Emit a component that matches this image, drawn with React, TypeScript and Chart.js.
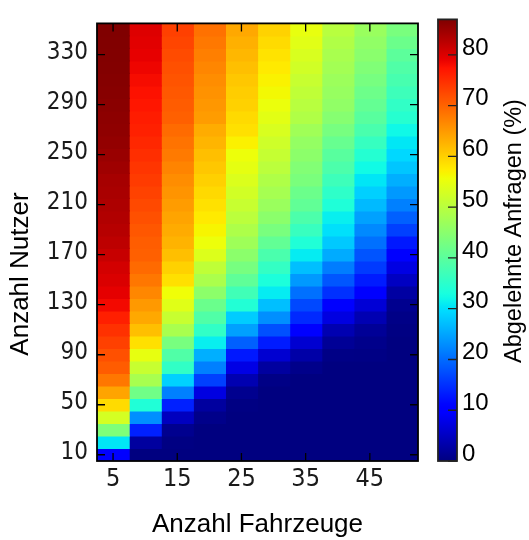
import React, { useEffect, useRef } from 'react';
import { Chart, registerables } from 'chart.js';

Chart.register(...registerables);

// ---- data -------------------------------------------------------------
const fahrzeuge = [5, 10, 15, 20, 25, 30, 35, 40, 45, 50];
const nutzer = [10, 20, 30, 40, 50, 60, 70, 80, 90, 100, 110, 120, 130, 140, 150, 160, 170, 180, 190, 200,
  210, 220, 230, 240, 250, 260, 270, 280, 290, 300, 310, 320, 330, 340, 350];
const fahrzeugTicks = [5, 15, 25, 35, 45];
const nutzerTicks = [10, 50, 90, 130, 170, 210, 250, 290, 330];
const farbTicks = [0, 10, 20, 30, 40, 50, 60, 70, 80];
const wertMin = 0;
const wertMax = 87;

// rejected requests (%) per vehicle count, users 10 .. 350
const abgelehnt5 = [10.2, 30.5, 43.8, 52.9, 59.0, 64.1, 68.2, 70.7, 71.8, 73.3, 74.7, 76.3, 78.3, 79.4, 80.2, 80.7, 81.6, 82.4,
  82.9, 83.3, 83.6, 83.9, 84.1, 84.6, 85.1, 85.5, 85.8, 86.0, 86.2, 86.4, 86.6, 86.7, 86.8, 86.9, 87.0];
const abgelehnt10 = [0, 2.4, 13.6, 23.1, 33.8, 42.3, 48.2, 51.5, 54.9, 58.5, 61.6, 63.7, 65.1, 66.7, 68.2, 69.4, 70.3, 70.6,
  71.2, 71.8, 72.4, 73.1, 73.7, 74.3, 74.9, 75.6, 76.2, 76.6, 77.1, 77.6, 78.1, 78.7, 79.2, 79.6, 79.9];
const abgelehnt15 = [0, 0.3, 1.2, 4.8, 13.6, 21.8, 28.7, 35.6, 38.9, 43.1, 48.3, 51.5, 54.1, 55.8, 58.5, 59.9, 61.6, 62.7,
  63.4, 64.1, 64.8, 65.5, 66.2, 67.0, 67.9, 68.6, 69.3, 70.3, 70.7, 71.1, 71.4, 71.8, 72.3, 72.8, 73.3];
const abgelehnt20 = [0, 0, 0, 0.8, 2.4, 7.3, 16.3, 21.8, 25.8, 31.3, 35.6, 38.9, 41.7, 45.3, 48.5, 50.7, 53.7, 55.5,
  56.6, 57.6, 58.4, 59.2, 60.0, 60.8, 61.6, 62.5, 63.3, 64.8, 65.3, 65.7, 66.2, 66.8, 67.5, 68.1, 68.8];
const abgelehnt25 = [0, 0, 0, 0, 0.3, 1.2, 3.7, 7.6, 12.9, 19.1, 24.5, 28.3, 34.0, 37.2, 40.5, 43.0, 45.2, 47.2,
  48.8, 50.2, 51.5, 52.6, 53.6, 54.7, 55.5, 57.0, 58.5, 59.1, 59.9, 60.3, 60.8, 61.6, 62.3, 63.0, 63.7];
const abgelehnt30 = [0, 0, 0, 0, 0, 0, 0.5, 2.4, 6.1, 13.2, 17.7, 23.1, 27.2, 31.0, 33.4, 35.8, 38.3, 40.8,
  43.2, 45.2, 46.7, 48.0, 49.0, 50.2, 51.3, 52.2, 53.3, 54.4, 55.3, 56.2, 56.9, 57.6, 58.3, 59.0, 59.8];
const abgelehnt35 = [0, 0, 0, 0, 0, 0, 0, 0.8, 3.0, 6.1, 9.6, 14.4, 17.0, 20.4, 23.9, 27.2, 31.0, 33.8,
  36.4, 38.5, 40.7, 41.8, 43.4, 44.2, 45.3, 46.1, 47.4, 49.1, 49.9, 50.7, 51.5, 52.5, 53.3, 54.2, 55.0];
const abgelehnt40 = [0, 0, 0, 0, 0, 0, 0, 0, 0.5, 1.7, 3.7, 7.3, 10.5, 15.0, 18.2, 21.5, 25.5, 28.0,
  30.0, 31.3, 33.7, 35.3, 36.9, 38.5, 39.8, 41.3, 43.0, 44.6, 45.8, 46.4, 46.9, 47.7, 48.3, 49.1, 49.9];
const abgelehnt45 = [0, 0, 0, 0, 0, 0, 0, 0, 0.4, 0.9, 1.8, 3.8, 6.5, 9.8, 13.2, 15.8, 18.0, 20.4,
  22.6, 24.6, 26.7, 28.6, 30.5, 32.3, 34.3, 36.2, 38.2, 39.8, 41.0, 42.0, 43.0, 44.0, 45.0, 45.8, 46.6];
const abgelehnt50 = [0, 0, 0, 0, 0, 0, 0, 0, 0, 0, 0.3, 0.6, 1.2, 2.6, 5.0, 7.5, 10.0, 12.9,
  16.3, 19.1, 21.8, 23.9, 25.8, 27.8, 29.3, 30.6, 32.1, 34.5, 35.6, 36.9, 38.0, 38.9, 40.2, 41.8, 43.2];

const spalten = [abgelehnt5, abgelehnt10, abgelehnt15, abgelehnt20, abgelehnt25,
  abgelehnt30, abgelehnt35, abgelehnt40, abgelehnt45, abgelehnt50];

// ---- colormap (jet) ---------------------------------------------------
const JET_R: [number, number][] = [[0, 0], [0.35, 0], [0.66, 1], [0.89, 1], [1, 0.5]];
const JET_G: [number, number][] = [[0, 0], [0.125, 0], [0.375, 1], [0.64, 1], [0.91, 0], [1, 0]];
const JET_B: [number, number][] = [[0, 0.5], [0.11, 1], [0.34, 1], [0.65, 0], [1, 0]];

function kanal(t: number, pts: [number, number][]) {
  for (let i = 1; i < pts.length; i++) {
    if (t <= pts[i][0]) {
      const [x0, y0] = pts[i - 1];
      const [x1, y1] = pts[i];
      return y0 + ((t - x0) / (x1 - x0)) * (y1 - y0);
    }
  }
  return pts[pts.length - 1][1];
}
function jet(t: number) {
  const c = Math.max(0, Math.min(1, t));
  const r = Math.round(kanal(c, JET_R) * 255);
  const g = Math.round(kanal(c, JET_G) * 255);
  const b = Math.round(kanal(c, JET_B) * 255);
  return `rgb(${r},${g},${b})`;
}
const norm = (v: number) => (v - wertMin) / (wertMax - wertMin);

// ---- fonts -------------------------------------------------------------
const tickFamily = "'DejaVu Sans Condensed', 'DejaVu Sans', sans-serif";
const titleFamily = "'Liberation Sans', Arial, sans-serif";
const textColor = '#1a1a1a';

const xStep = fahrzeuge[1] - fahrzeuge[0];
const yStep = nutzer[1] - nutzer[0];

const rahmenPlugin = {
  id: 'rahmen',
  afterDatasetsDraw(chart: any) {
    const { ctx, chartArea: a, scales } = chart;
    ctx.save();
    ctx.strokeStyle = '#000';
    ctx.lineWidth = 1.3;
    const len = 8;
    ctx.beginPath();
    for (const v of fahrzeugTicks) {
      const px = scales.x.getPixelForValue(v);
      ctx.moveTo(px, a.bottom); ctx.lineTo(px, a.bottom - len);
      ctx.moveTo(px, a.top); ctx.lineTo(px, a.top + len);
    }
    for (const v of nutzerTicks) {
      const py = scales.y.getPixelForValue(v);
      ctx.moveTo(a.left, py); ctx.lineTo(a.left + len, py);
      ctx.moveTo(a.right, py); ctx.lineTo(a.right - len, py);
    }
    ctx.stroke();
    ctx.lineWidth = 1.8;
    ctx.strokeRect(a.left, a.top, a.right - a.left, a.bottom - a.top);
    // y axis title
    ctx.translate(21, 274);
    ctx.rotate(-Math.PI / 2);
    ctx.font = `26px ${titleFamily}`;
    ctx.fillStyle = '#000';
    ctx.textAlign = 'center';
    ctx.textBaseline = 'middle';
    ctx.fillText('Anzahl Nutzer', 0, 0);
    ctx.restore();
  },
};

const farbPlugin = {
  id: 'farbRahmen',
  afterDatasetsDraw(chart: any) {
    const { ctx, chartArea: a, scales } = chart;
    ctx.save();
    ctx.strokeStyle = '#222';
    ctx.lineWidth = 1.3;
    ctx.beginPath();
    for (const v of farbTicks) {
      const py = scales.y.getPixelForValue(v);
      ctx.moveTo(a.right, py); ctx.lineTo(a.right - 9, py);
    }
    ctx.stroke();
    ctx.lineWidth = 1.8;
    ctx.strokeRect(a.left, a.top, a.right - a.left, a.bottom - a.top);
    ctx.translate(85, 231);
    ctx.rotate(-Math.PI / 2);
    ctx.font = `23.5px ${titleFamily}`;
    ctx.fillStyle = '#000';
    ctx.textAlign = 'center';
    ctx.textBaseline = 'middle';
    ctx.fillText('Abgelehnte Anfragen (%)', 0, 0);
    ctx.restore();
  },
};

export default function App() {
  const mainRef = useRef<HTMLCanvasElement>(null);
  const barRef = useRef<HTMLCanvasElement>(null);

  useEffect(() => {
    const datasets = fahrzeuge.map((f, i) => ({
      label: `${f} Fahrzeuge`,
      data: nutzer.map((u, j) => ({ x: f, y: [u - yStep / 2, u + yStep / 2], v: spalten[i][j] })),
      backgroundColor: (ctx: any) => jet(norm(ctx.raw ? ctx.raw.v : 0)),
      borderWidth: 0,
      barPercentage: 1,
      categoryPercentage: 1,
      grouped: false,
      inflateAmount: 0.6,
    }));

    const main = new Chart(mainRef.current!, {
      type: 'bar',
      data: { datasets } as any,
      options: {
        responsive: false,
        animation: false,
        devicePixelRatio: 1,
        events: [],
        layout: { padding: { left: 0, right: 12, top: 16, bottom: 0 } },
        plugins: { legend: { display: false }, tooltip: { enabled: false } },
        scales: {
          x: {
            type: 'linear',
            min: fahrzeuge[0] - xStep / 2,
            max: fahrzeuge[fahrzeuge.length - 1] + xStep / 2,
            offset: false,
            afterBuildTicks: (s: any) => { s.ticks = fahrzeugTicks.map((value) => ({ value })); },
            afterFit: (s: any) => { s.height = 79; },
            grid: { display: false, drawTicks: false },
            border: { display: false },
            ticks: { padding: 3, font: { family: tickFamily, size: 25 }, color: textColor, maxRotation: 0, autoSkip: false },
            title: { display: true, text: 'Anzahl Fahrzeuge', font: { family: titleFamily, size: 26 }, color: '#000', padding: { top: 0, bottom: 0 } },
          },
          y: {
            type: 'linear',
            min: nutzer[0] - yStep / 2,
            max: nutzer[nutzer.length - 1] + yStep / 2,
            afterBuildTicks: (s: any) => { s.ticks = nutzerTicks.map((value) => ({ value })); },
            afterFit: (s: any) => { s.width = 97; },
            grid: { display: false, drawTicks: false },
            border: { display: false },
            ticks: { padding: 9, labelOffset: -2, font: { family: tickFamily, size: 24 }, color: textColor, autoSkip: false },
          },
        },
      } as any,
      plugins: [rahmenPlugin],
    });

    const bar = new Chart(barRef.current!, {
      type: 'bar',
      data: {
        labels: [''],
        datasets: [{
          label: 'Abgelehnte Anfragen (%)',
          data: [[wertMin, wertMax]],
          borderWidth: 0,
          barPercentage: 1,
          categoryPercentage: 1,
          backgroundColor: (ctx: any) => {
            const ch = ctx.chart;
            const ys = ch.scales.y;
            if (!ch.chartArea || !ys) return jet(0.5);
            const g = ch.ctx.createLinearGradient(0, ys.getPixelForValue(wertMin), 0, ys.getPixelForValue(wertMax));
            for (let i = 0; i <= 100; i++) g.addColorStop(i / 100, jet(i / 100));
            return g;
          },
        }],
      } as any,
      options: {
        responsive: false,
        animation: false,
        devicePixelRatio: 1,
        events: [],
        layout: { padding: { left: 8, right: 0, top: 16, bottom: 79 } },
        plugins: { legend: { display: false }, tooltip: { enabled: false } },
        scales: {
          x: { display: false },
          y: {
            position: 'right',
            min: wertMin,
            max: wertMax,
            afterBuildTicks: (s: any) => { s.ticks = farbTicks.map((value) => ({ value })); },
            afterFit: (s: any) => { s.width = 72; },
            grid: { display: false, drawTicks: false },
            border: { display: false },
            ticks: { padding: 5, labelOffset: -7, font: { family: titleFamily, size: 24 }, color: '#000', autoSkip: false },
          },
        },
      } as any,
      plugins: [farbPlugin],
    });

    return () => { main.destroy(); bar.destroy(); };
  }, []);

  return (
    <div style={{ position: 'absolute', left: 0, top: 0, width: 529, height: 540, background: '#fff' }}>
      <canvas ref={mainRef} width={430} height={540} style={{ position: 'absolute', left: 0, top: 0 }} />
      <canvas ref={barRef} width={99} height={540} style={{ position: 'absolute', left: 430, top: 0 }} />
    </div>
  );
}
